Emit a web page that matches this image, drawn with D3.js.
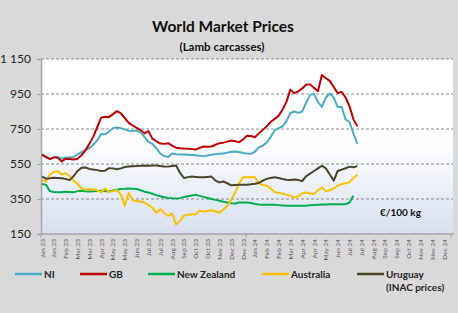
<!DOCTYPE html>
<html>
<head>
<meta charset="utf-8">
<script src="https://cdn.jsdelivr.net/npm/d3@7"></script>
<style>
  body { margin: 0; background: #d9d9d9; }
  svg { display: block; font-family: Lato, "Open Sans", sans-serif; }
</style>
</head>
<body>
<div id="chart"></div>
<script>
// weekly prices, €/100 kg, week 0 = first week of Jan 23
const nWeeks = 105;
const tickLabels = ["Jan 23","Jan 23","Feb 23","Mar 23","Mar 23","Apr 23","May 23","May 23","Jun 23","Jul 23","Jul 23","Aug 23","Sep 23","Oct 23","Oct 23","Nov 23","Dec 23","Dec 23",
  "Jan 24","Feb 24","Feb 24","Mar 24","Apr 24","Apr 24","May 24","Jun 24","Jul 24","Jul 24","Aug 24","Sep 24","Sep 24","Oct 24","Nov 24","Nov 24","Dec 24"];
const yTicks = [150, 350, 550, 750, 950, 1150];

const ni = [598,590,580,588,590,580,587,588,590,605,618,630,640,660,685,722,720,735,755,758,
  755,748,740,738,742,730,705,675,665,640,610,595,590,610,606,604,604,603,602,600,
  597,595,598,603,606,608,610,615,620,621,619,613,610,608,620,645,655,673,705,742,
  755,765,795,840,850,842,850,900,945,950,905,876,930,953,930,875,877,805,790,725,665];
const gb = [605,590,578,588,585,565,580,578,576,580,600,627,665,705,760,815,820,818,835,852,
  840,812,785,770,757,745,725,738,695,680,667,665,669,655,643,640,638,637,635,633,
  642,650,648,650,660,669,672,678,684,680,675,690,712,710,703,725,745,765,790,808,
  825,860,905,975,955,965,982,1003,1005,985,966,1058,1040,1025,990,955,962,930,880,805,765];
const nz = [436,432,395,390,388,388,392,390,388,395,397,394,393,394,396,397,395,393,398,403,
  407,408,410,409,407,400,392,387,380,372,366,360,356,354,353,355,362,366,370,374,
  368,362,356,350,345,340,334,330,326,324,330,330,330,327,322,318,317,317,317,317,
  315,313,311,311,311,311,311,312,314,316,317,318,319,320,320,320,320,320,330,368];
const australia = [458,450,490,505,508,490,497,480,455,438,410,402,407,404,400,388,410,390,395,400,
  375,312,385,342,338,336,330,315,300,272,292,270,253,267,205,225,255,260,263,263,
  284,278,282,286,280,272,290,310,345,387,440,474,474,474,474,440,430,426,410,390,
  385,380,375,368,358,365,382,387,382,378,400,416,395,400,410,426,435,440,445,470,489];
const uruguay = [478,466,468,472,470,468,465,458,480,510,528,530,522,518,515,510,512,526,525,520,
  525,533,536,537,538,540,541,540,541,541,538,536,535,538,541,500,470,475,478,476,
  474,474,476,478,455,445,450,440,428,430,432,432,432,434,437,442,455,465,470,474,
  470,464,460,459,462,458,452,480,495,510,525,540,525,490,455,510,518,526,535,531,538];

const series = [
  { name: "NI", values: ni, color: "#4bacc6" },
  { name: "GB", values: gb, color: "#c00000" },
  { name: "New Zealand", values: nz, color: "#00b050" },
  { name: "Australia", values: australia, color: "#ffc000" },
  { name: "Uruguay", values: uruguay, color: "#4a452a" }
];

const w = 458, h = 313;
const padL = 41, padR = 453, padT = 59, padB = 234;

const svg = d3.select("#chart").append("svg")
  .attr("width", w).attr("height", h);

svg.append("rect").attr("width", w).attr("height", h).attr("fill", "#d9d9d9");

const defs = svg.append("defs");
const grad = defs.append("linearGradient").attr("id", "bg").attr("x1", 0).attr("x2", 0).attr("y1", 0).attr("y2", 1);
grad.append("stop").attr("offset", "0%").attr("stop-color", "#ffffff");
grad.append("stop").attr("offset", "45%").attr("stop-color", "#ffffff");
grad.append("stop").attr("offset", "100%").attr("stop-color", "#d7dff0");

svg.append("rect")
  .attr("x", padL).attr("y", padT)
  .attr("width", padR - padL).attr("height", padB - padT)
  .attr("fill", "url(#bg)");

const x = d3.scalePoint().domain(d3.range(nWeeks)).range([padL + 1, padR - 1]);
const y = d3.scaleLinear().domain([150, 1150]).range([padB, padT]);

// gridlines
svg.append("g")
  .selectAll("line")
  .data(yTicks.filter(d => d > 150))
  .join("line")
  .attr("x1", padL).attr("x2", padR)
  .attr("y1", d => y(d)).attr("y2", d => y(d))
  .attr("stroke", "#8c8c8c")
  .attr("stroke-width", 1)
  .attr("stroke-dasharray", "3,2");

// y axis
const yAxis = d3.axisLeft(y).tickValues(yTicks).tickSize(4).tickPadding(6)
  .tickFormat(d => d >= 1000 ? d3.format(",")(d).replace(",", " ") : d);
const gy = svg.append("g").attr("transform", "translate(" + padL + ",0)").call(yAxis);
gy.select(".domain").attr("stroke", "#a6a6a6").attr("stroke-width", 1.5);
gy.selectAll(".tick line").attr("stroke", "#a6a6a6");
gy.selectAll("text").attr("font-size", 12).attr("fill", "#262626")
  .attr("font-family", "Lato, sans-serif");

// x axis
svg.append("line")
  .attr("x1", padL).attr("x2", padR + 1)
  .attr("y1", padB).attr("y2", padB)
  .attr("stroke", "#a6a6a6").attr("stroke-width", 1.5);
svg.append("g")
  .selectAll("line")
  .data([0, 52, 104])
  .join("line")
  .attr("x1", d => x(d) - 1).attr("x2", d => x(d) - 1)
  .attr("y1", padB).attr("y2", padB + 4)
  .attr("stroke", "#a6a6a6");

svg.append("g")
  .selectAll("text")
  .data(tickLabels)
  .join("text")
  .attr("transform", (d, i) => "translate(" + (x(i * 3) + 2.5) + "," + (padB + 5) + ") rotate(-90)")
  .attr("text-anchor", "end")
  .attr("font-size", 6.5)
  .attr("fill", "#595959")
  .text(d => d);

// lines
const line = d3.line()
  .x((d, i) => x(i))
  .y(d => y(d));

svg.append("g")
  .selectAll("path")
  .data(series)
  .join("path")
  .attr("d", d => line(d.values))
  .attr("fill", "none")
  .attr("stroke", d => d.color)
  .attr("stroke-width", 2)
  .attr("stroke-linejoin", "round");

// titles
svg.append("text")
  .attr("x", 223).attr("y", 32)
  .attr("text-anchor", "middle")
  .attr("font-size", 15.5).attr("font-weight", "bold").attr("fill", "#111")
  .text("World Market Prices");
svg.append("text")
  .attr("x", 222).attr("y", 51)
  .attr("text-anchor", "middle")
  .attr("font-size", 11.5).attr("font-weight", "bold").attr("fill", "#111")
  .text("(Lamb carcasses)");

svg.append("text")
  .attr("x", 380).attr("y", 216)
  .attr("font-size", 10).attr("font-weight", "bold").attr("fill", "#111")
  .text("€/100 kg");

// legend
const legendX = [15, 80, 148, 262, 357];
const legend = svg.append("g")
  .selectAll("g")
  .data(series)
  .join("g")
  .attr("transform", (d, i) => "translate(" + legendX[i] + ",274)");
legend.append("line")
  .attr("x1", 0).attr("x2", 27)
  .attr("stroke", d => d.color).attr("stroke-width", 2.5);
legend.append("text")
  .attr("x", 29).attr("y", 3.5)
  .attr("font-size", 10).attr("font-weight", "bold").attr("fill", "#262626")
  .text(d => d.name);
svg.append("text")
  .attr("x", 386).attr("y", 291)
  .attr("font-size", 10).attr("font-weight", "bold").attr("fill", "#262626")
  .text("(INAC prices)");
</script>
</body>
</html>
